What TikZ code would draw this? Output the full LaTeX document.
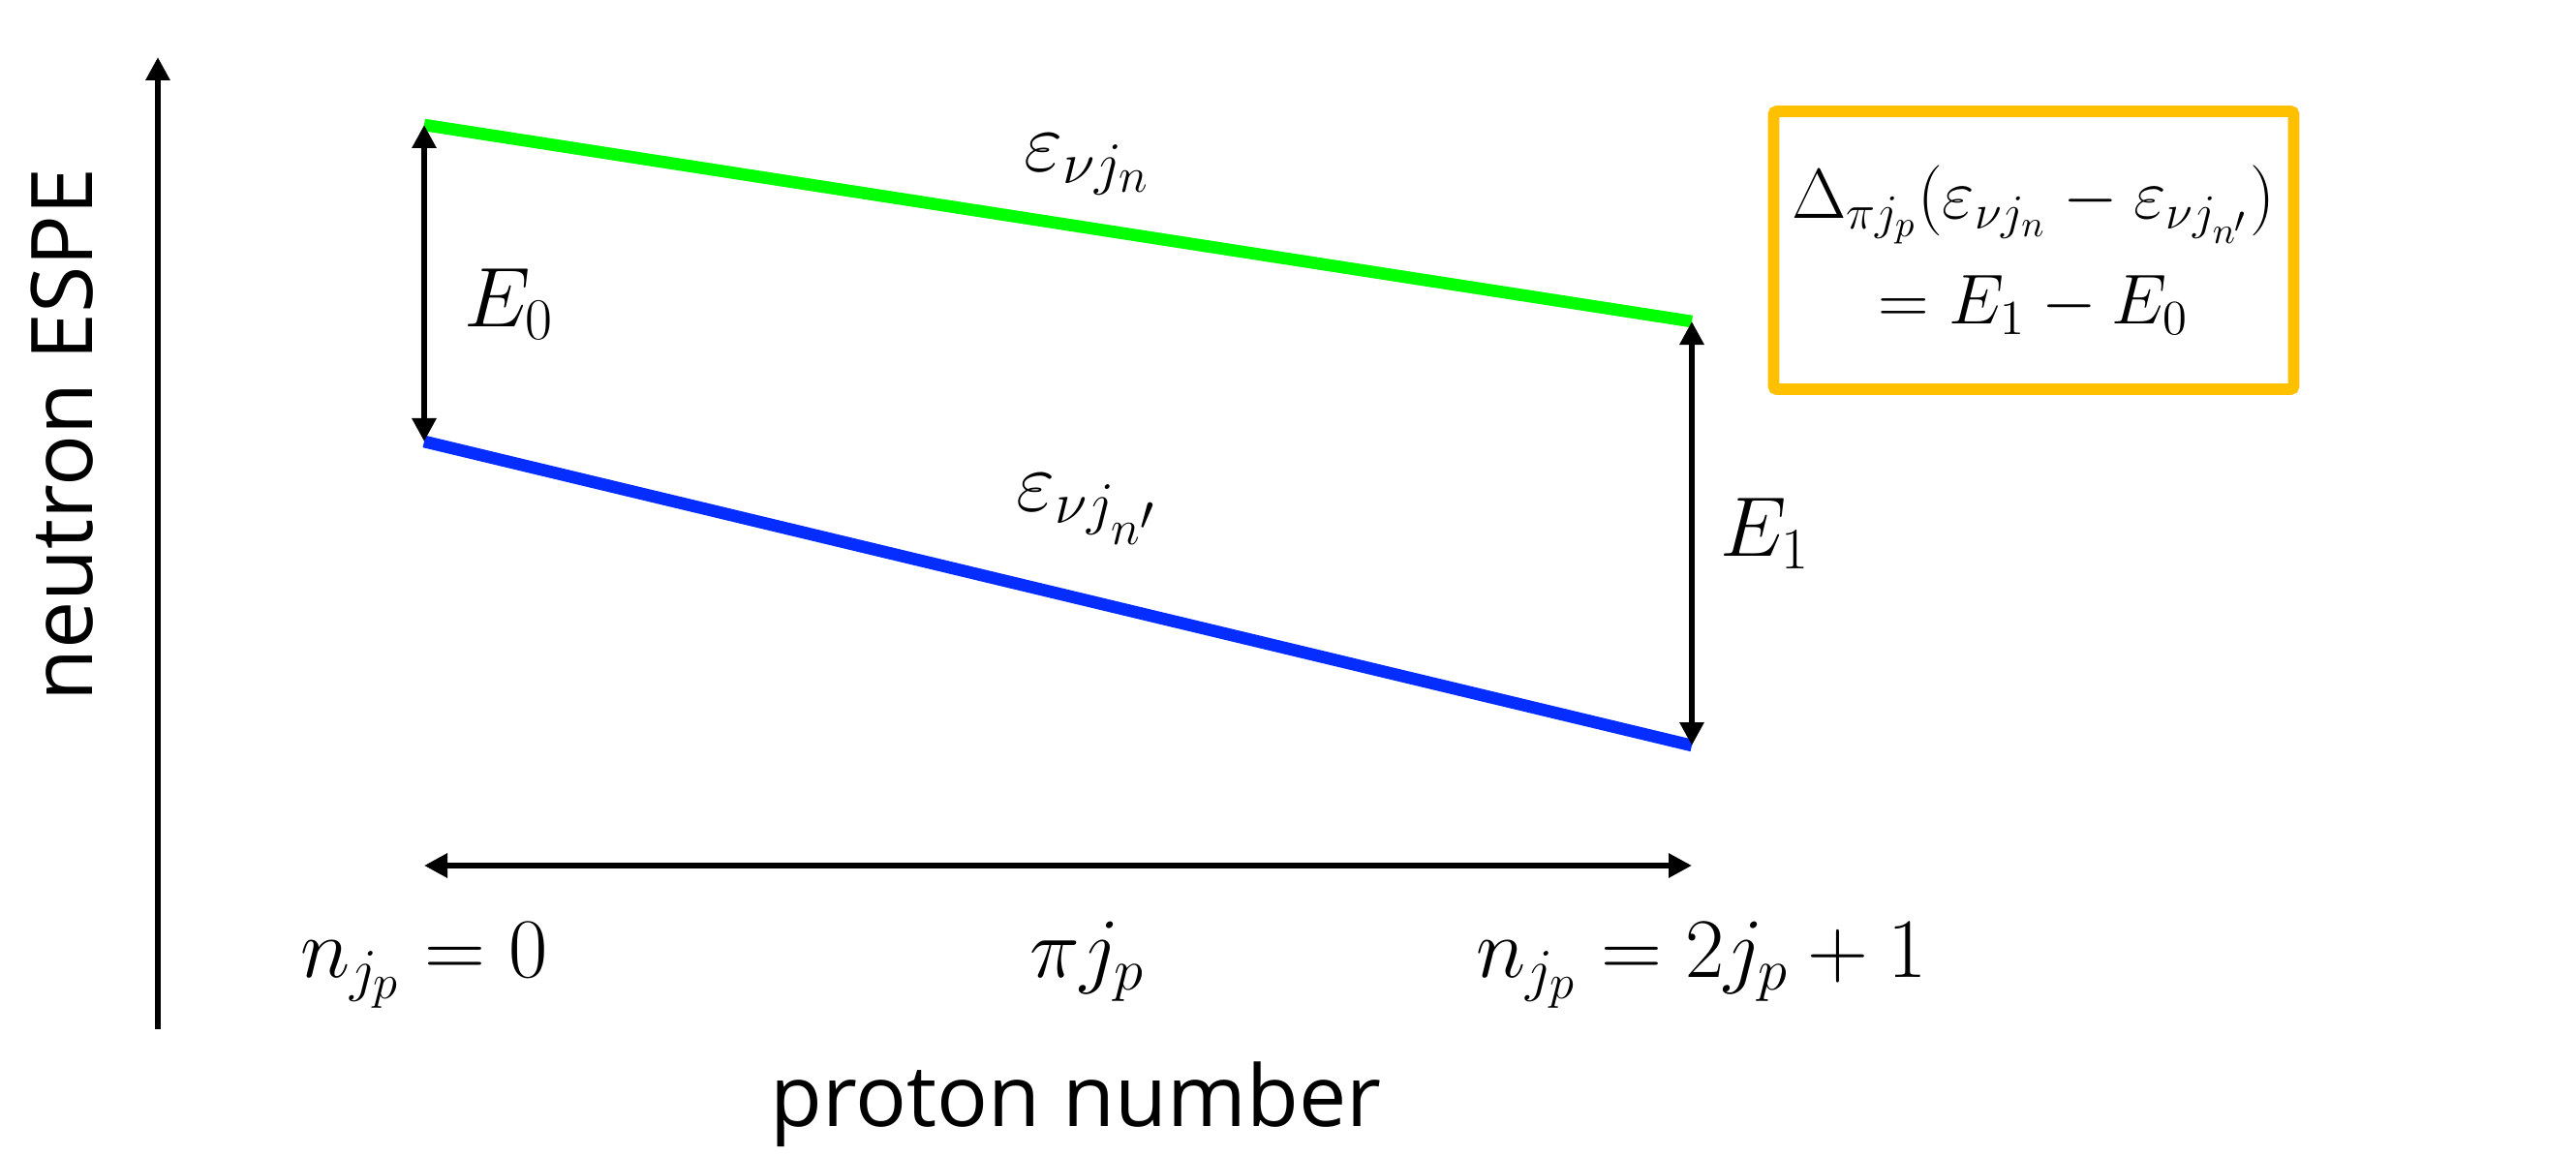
\documentclass[tikz,border=0pt]{standalone}
\usepackage{fontspec}
\setmainfont{Open Sans}
\usetikzlibrary{arrows.meta,positioning}
\definecolor{lvlgreen}{RGB}{0,255,0}
\definecolor{lvlblue}{RGB}{5,45,255}
\definecolor{boxgold}{RGB}{255,192,0}

\begin{document}
\begin{tikzpicture}[
    >={Triangle[length=0.24cm,width=0.24cm]},
    axis/.style={->, line width=1.8pt},
    gap/.style={<->, line width=1.8pt},
    level/.style={line width=3.6pt},
    lbl/.style={font=\fontsize{25}{30}\selectfont, inner sep=0pt},
    mth/.style={font=\fontsize{27}{32}\selectfont, inner sep=0pt},
    formula/.style={draw=boxgold, line width=3.4pt, rounded corners=1pt, align=center,
        minimum width=5.37cm, minimum height=2.87cm, font=\fontsize{22}{29}\selectfont}
]
\useasboundingbox (0,0) rectangle (26.6,11.94);

% Level end points
\coordinate (g0) at (4.38,10.65);
\coordinate (g1) at (17.47,8.62);
\coordinate (b0) at (4.38,7.38);
\coordinate (b1) at (17.47,4.24);
\coordinate (h0) at (4.38,3.00);
\coordinate (h1) at (17.47,3.00);
\coordinate (ybot) at (1.63,1.31);
\coordinate (ytop) at (1.63,11.35);

% Vertical axis
\draw[axis] (ybot) -- (ytop);
\node[lbl, rotate=90] (ylabel) at (0.64,7.45) {neutron ESPE};

% Neutron ESPE levels
\draw[level, lvlgreen] (g0) -- (g1);
\draw[level, lvlblue] (b0) -- (b1);
\node[mth] (epsn) at (11.23,10.24) {$\varepsilon_{\nu j_n}$};
\node[mth] (epsnp) at (11.23,6.68) {$\varepsilon_{\nu j_{n'}}$};

% Gaps
\draw[gap] (g0) -- (b0);
\draw[gap] (g1) -- (b1);
\node[mth] (e0) at (5.26,8.80) {$E_0$};
\node[mth] (e1) at (18.23,6.43) {$E_1$};

% Proton filling
\draw[gap] (h0) -- (h1);
\node[mth, anchor=base] (nzero) at (4.38,1.85) {$n_{j_p} = 0$};
\node[mth, anchor=base] (orbit) at (11.23,1.85) {$\pi j_p$};
\node[mth, anchor=base] (nfull) at (17.57,1.85) {$n_{j_p} = 2j_p + 1$};
\node[lbl, anchor=base] (xlabel) at (11.11,0.31) {proton number};

% Monopole formula
\node[formula] (mono) at (21.0,9.355) {$\Delta_{\pi j_p}\bigl(\varepsilon_{\nu j_n} - \varepsilon_{\nu j_{n'}}\bigr)$\\[2pt]
    $= E_1 - E_0$};

\end{tikzpicture}
\end{document}
